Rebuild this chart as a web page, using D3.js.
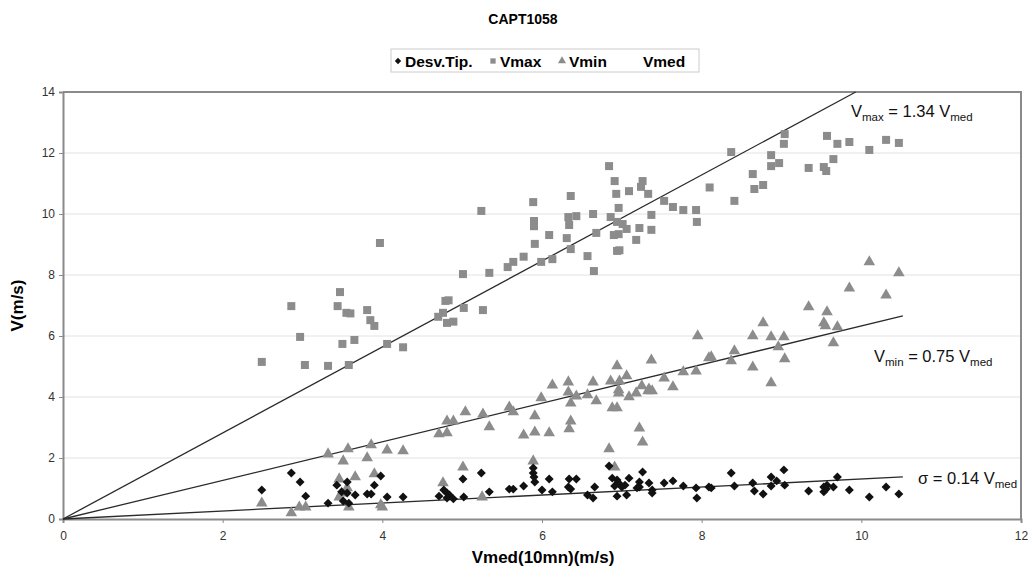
<!DOCTYPE html>
<html lang="en">
<head>
<meta charset="UTF-8">
<title>CAPT1058</title>
<script src="https://cdn.jsdelivr.net/npm/d3@7/dist/d3.min.js"></script>
<style>
  body { margin: 0; background: #fff; }
  text { font-family: Arial, "Liberation Sans", sans-serif; }
</style>
</head>
<body>
<svg width="1034" height="571" id="mainsvg"></svg>
<script>
// Vmax points [Vmed, V]
const vmaxData = [
  [2.49,5.15],[2.86,6.98],[2.97,5.97],[3.03,5.05],[3.32,5.02],[3.44,6.98],[3.47,7.44],
  [3.50,5.74],[3.55,6.76],[3.60,6.74],[3.58,5.05],[3.65,5.87],[3.81,6.85],[3.85,6.52],
  [3.90,6.33],[3.97,9.05],[4.06,5.74],[4.26,5.63],[4.70,6.63],[4.76,6.76],[4.79,7.15],
  [4.83,7.17],[4.81,6.43],[4.89,6.47],[5.01,8.03],[5.02,6.92],[5.24,10.1],[5.26,6.85],
  [5.34,8.07],[5.57,8.26],[5.64,8.43],[5.77,8.60],[5.89,10.39],[5.90,9.77],[5.90,9.60],
  [5.91,9.02],[5.99,8.43],[6.09,9.31],[6.13,8.52],[6.31,9.21],[6.33,9.90],[6.34,9.64],
  [6.36,10.59],[6.36,8.85],[6.43,9.93],[6.57,8.62],[6.64,10.0],[6.65,8.13],[6.68,9.38],
  [6.84,11.57],[6.86,9.90],[6.90,9.31],[6.91,11.08],[6.93,10.66],[6.94,9.74],[6.94,8.79],
  [6.97,8.81],[6.96,10.2],[6.96,9.34],[7.01,9.67],[7.06,9.51],[7.09,10.75],[7.18,9.15],
  [7.22,9.54],[7.24,10.89],[7.26,11.08],[7.33,10.66],[7.37,9.97],[7.37,9.48],[7.53,10.43],
  [7.64,10.23],[7.77,10.13],[7.93,10.13],[7.94,9.74],[8.10,10.87],[8.37,12.03],[8.41,10.43],
  [8.64,11.31],[8.66,10.82],[8.77,10.95],[8.87,11.93],[8.87,11.57],[8.97,11.67],[9.03,12.3],
  [9.04,12.62],[9.34,11.51],[9.53,11.54],[9.56,11.41],[9.57,12.56],[9.65,11.8],[9.70,12.3],
  [9.85,12.36],[10.1,12.1],[10.31,12.43],[10.47,12.33]
];
// Vmin points
const vminData = [
  [2.49,0.52],[2.86,0.20],[2.96,0.39],[3.04,0.39],[3.32,2.13],[3.46,1.31],[3.46,0.72],
  [3.49,0.85],[3.51,1.90],[3.56,1.02],[3.57,2.30],[3.58,0.39],[3.66,1.38],[3.81,2.0],
  [3.86,2.43],[3.90,1.48],[3.98,0.46],[4.0,0.39],[4.06,2.26],[4.26,2.23],[4.71,2.79],
  [4.76,1.18],[4.81,2.82],[4.81,3.21],[4.89,3.21],[5.01,1.70],[5.04,3.51],[5.25,0.72],
  [5.26,3.44],[5.34,3.02],[5.59,3.67],[5.64,3.51],[5.77,2.75],[5.89,1.90],[5.91,3.38],
  [5.91,2.85],[5.99,3.97],[6.09,2.82],[6.13,4.39],[6.33,4.49],[6.33,4.16],[6.34,2.95],
  [6.36,3.80],[6.36,3.21],[6.43,4.03],[6.57,4.07],[6.64,4.49],[6.68,3.87],[6.84,2.30],
  [6.86,4.52],[6.88,3.64],[6.91,1.70],[6.94,3.64],[6.94,5.02],[6.96,4.23],[6.96,4.13],
  [6.97,4.52],[7.06,4.69],[7.09,4.0],[7.18,4.13],[7.22,2.98],[7.25,4.36],[7.26,2.52],
  [7.33,4.2],[7.34,4.26],[7.37,5.21],[7.38,4.2],[7.53,4.62],[7.64,4.33],[7.77,4.82],
  [7.93,4.85],[7.95,6.0],[8.09,5.28],[8.12,5.31],[8.37,5.18],[8.41,5.51],[8.64,6.0],
  [8.64,4.98],[8.77,6.43],[8.87,5.97],[8.87,4.46],[8.96,5.64],[9.03,5.97],[9.04,5.25],
  [9.34,6.95],[9.53,6.43],[9.55,6.33],[9.57,6.79],[9.65,5.77],[9.70,6.30],[9.85,7.57],
  [10.1,8.43],[10.31,7.34],[10.47,8.07]
];
// Desv.Tip. points
const sdData = [
  [2.49,0.95],[2.86,1.51],[2.97,1.21],[3.04,0.75],[3.32,0.52],[3.43,1.11],[3.49,0.89],
  [3.51,0.59],[3.56,1.21],[3.56,0.85],[3.58,0.52],[3.66,0.79],[3.81,0.82],[3.86,0.82],
  [3.90,1.11],[3.98,1.41],[4.06,0.72],[4.26,0.72],[4.71,0.75],[4.77,0.95],[4.81,0.85],
  [4.84,0.79],[4.81,0.69],[4.89,0.66],[5.01,1.31],[5.02,0.72],[5.24,1.51],[5.34,0.89],
  [5.59,0.98],[5.64,0.98],[5.77,1.08],[5.89,1.67],[5.89,1.51],[5.90,1.38],[5.91,1.21],
  [6.0,0.95],[6.09,1.31],[6.13,0.89],[6.33,1.05],[6.34,1.31],[6.36,0.98],[6.43,1.31],
  [6.57,0.79],[6.64,0.69],[6.66,1.05],[6.84,1.74],[6.88,1.34],[6.91,1.08],[6.94,1.28],
  [6.94,0.75],[6.96,1.18],[7.0,1.05],[7.04,1.11],[7.06,0.79],[7.09,1.34],[7.19,1.02],
  [7.22,1.21],[7.22,1.05],[7.26,1.54],[7.34,1.18],[7.38,0.95],[7.38,0.85],[7.53,1.18],
  [7.64,1.25],[7.77,1.08],[7.93,1.02],[7.94,0.69],[8.09,1.05],[8.12,1.02],[8.37,1.51],
  [8.41,1.08],[8.64,1.18],[8.66,0.92],[8.77,0.82],[8.87,1.38],[8.87,1.08],[8.94,1.25],
  [9.03,1.61],[9.04,1.11],[9.34,0.92],[9.53,1.05],[9.53,0.89],[9.56,0.98],[9.57,1.11],
  [9.65,1.05],[9.70,1.38],[9.85,0.95],[10.1,0.72],[10.31,1.05],[10.47,0.82]
];
// trend lines as drawn in the picture: slope and last x
const fitNames = ['Vmax', 'Vmin', 'sigma'];
const fitSlopes = [1.41, 0.633, 0.131];
const fitEnds = [9.93, 10.52, 10.52];
const xTicks = [0, 2, 4, 6, 8, 10, 12];
const yTicks = [0, 2, 4, 6, 8, 10, 12, 14];

const svg = d3.select('#mainsvg');
const margin = {top: 92, right: 13, bottom: 52, left: 63};
const width = +svg.attr('width');
const height = +svg.attr('height');

const xScale = d3.scaleLinear().domain([0, 12]).range([margin.left, width - margin.right]);
const yScale = d3.scaleLinear().domain([0, 14]).range([height - margin.bottom, margin.top]);

// gridlines
const grid = svg.append('g');
grid.selectAll('line').data(yTicks.slice(1, -1)).join('line')
  .attr('x1', xScale(0)).attr('x2', xScale(12))
  .attr('y1', d => yScale(d)).attr('y2', d => yScale(d))
  .attr('stroke', '#e2e2e2').attr('stroke-width', 1);

// axes
const xAxis = d3.axisBottom(xScale).tickValues(xTicks).tickSize(4).tickFormat(d3.format('d'));
const xg = svg.append('g').attr('transform', `translate(0,${yScale(0)})`).call(xAxis);
const yAxis = d3.axisLeft(yScale).tickValues(yTicks).tickSize(4).tickFormat(d3.format('d'));
const yg = svg.append('g').attr('transform', `translate(${xScale(0)},0)`).call(yAxis);
[xg, yg].forEach(a => {
  a.select('.domain').attr('stroke', '#8a8a8a').attr('stroke-width', 2);
  a.selectAll('.tick line').attr('stroke', '#8a8a8a');
  a.selectAll('.tick text').attr('font-size', 12).attr('fill', '#333')
    .attr('font-family', 'Arial, "Liberation Sans", sans-serif');
});
xg.selectAll('.tick text').attr('dy', '1.2em');
yg.selectAll('.tick text').attr('x', -8);

// frame top/right
svg.append('path')
  .attr('d', `M${xScale(0)},${yScale(14)}H${xScale(12)}V${yScale(0)}`)
  .attr('fill', 'none').attr('stroke', '#8a8a8a').attr('stroke-width', 2);

// trend lines
const plot = svg.append('g');
fitNames.forEach((n, i) => {
  plot.append('line')
    .attr('x1', xScale(0)).attr('y1', yScale(0))
    .attr('x2', xScale(fitEnds[i])).attr('y2', yScale(fitSlopes[i] * fitEnds[i]))
    .attr('stroke', '#2a2a2a').attr('stroke-width', 1.3);
});

// markers (diamond = square turned 45deg)
const sq = d3.symbol().type(d3.symbolSquare).size(64);
const tri = d3.symbol().type(d3.symbolTriangle).size(58);
const dia = d3.symbol().type(d3.symbolSquare).size(40);

plot.append('g').selectAll('path').data(vmaxData).join('path')
  .attr('d', sq).attr('fill', '#8c8c8c')
  .attr('transform', d => `translate(${xScale(d[0])},${yScale(d[1])})`);
plot.append('g').selectAll('path').data(vminData).join('path')
  .attr('d', tri).attr('fill', '#8c8c8c')
  .attr('transform', d => `translate(${xScale(d[0])},${yScale(d[1])})`);
plot.append('g').selectAll('path').data(sdData).join('path')
  .attr('d', dia).attr('fill', '#111')
  .attr('transform', d => `translate(${xScale(d[0])},${yScale(d[1])}) rotate(45)`);

// equation labels
const eq = (x, y, parts) => {
  const t = svg.append('text').attr('x', x).attr('y', y).attr('font-size', 16.5).attr('fill', '#111');
  parts.forEach(p => {
    const s = t.append('tspan').text(p[0]);
    if (p[1]) s.attr('font-size', 11.5).attr('dy', 4);
    else if (p[2]) s.attr('dy', -4);
  });
};
eq(851, 117, [['V'], ['max', true], [' = 1.34 V', false, true], ['med', true]]);
eq(874, 362, [['V'], ['min', true], [' = 0.75 V', false, true], ['med', true]]);
eq(918, 484, [['σ = 0.14 V'], ['med', true]]);

// title and axis titles
svg.append('text').attr('x', 523).attr('y', 24).attr('text-anchor', 'middle')
  .attr('font-size', 14).attr('font-weight', 'bold').text('CAPT1058');
svg.append('text').attr('x', 543).attr('y', 563).attr('text-anchor', 'middle')
  .attr('font-size', 17).attr('font-weight', 'bold').text('Vmed(10mn)(m/s)');
svg.append('text').attr('transform', `translate(23,${(yScale(0) + yScale(14)) / 2}) rotate(-90)`)
  .attr('text-anchor', 'middle').attr('font-size', 17).attr('font-weight', 'bold').text('V(m/s)');

// legend
const lg = svg.append('g');
lg.append('rect').attr('x', 391).attr('y', 49).attr('width', 308).attr('height', 23)
  .attr('fill', '#fff').attr('stroke', '#ccc');
const legItems = [
  {label: 'Desv.Tip.', type: 'dia', fill: '#111', x: 398},
  {label: 'Vmax', type: 'sq', fill: '#8c8c8c', x: 493},
  {label: 'Vmin', type: 'tri', fill: '#8c8c8c', x: 562},
  {label: 'Vmed', type: null, fill: null, x: 636}
];
legItems.forEach(it => {
  if (it.type === 'dia') lg.append('path').attr('d', d3.symbol().type(d3.symbolSquare).size(20))
    .attr('fill', it.fill).attr('transform', `translate(${it.x},61) rotate(45)`);
  if (it.type === 'sq') lg.append('path').attr('d', d3.symbol().type(d3.symbolSquare).size(28))
    .attr('fill', it.fill).attr('transform', `translate(${it.x},61)`);
  if (it.type === 'tri') lg.append('path').attr('d', d3.symbol().type(d3.symbolTriangle).size(28))
    .attr('fill', it.fill).attr('transform', `translate(${it.x},61)`);
  lg.append('text').attr('x', it.x + 7).attr('y', 66.5).attr('font-size', 15.5).attr('font-weight', 'bold')
    .text(it.label);
});
</script>
</body>
</html>
